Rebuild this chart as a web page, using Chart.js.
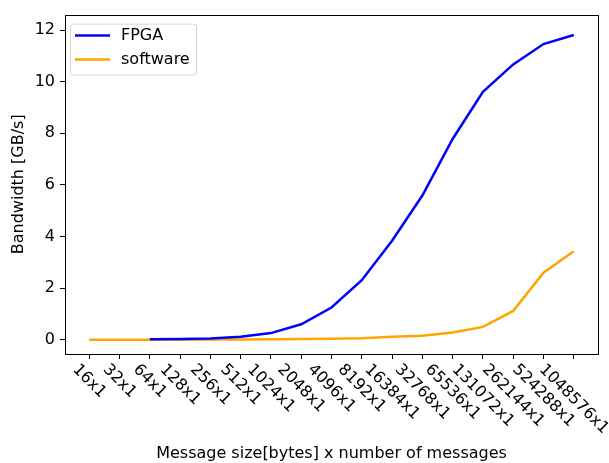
<!DOCTYPE html>
<html>
<head>
<meta charset="utf-8">
<script src="https://cdn.jsdelivr.net/npm/chart.js@4/dist/chart.umd.min.js"></script>
<style>
  html, body { margin: 0; padding: 0; background: #fff; }
  #wrap { width: 609px; height: 463px; }
</style>
</head>
<body>
<div id="wrap"><canvas id="c" width="609" height="463"></canvas></div>
<script>
// Message sizes (bytes x number of messages)
const categories = ['16x1', '32x1', '64x1', '128x1', '256x1', '512x1', '1024x1', '2048x1',
  '4096x1', '8192x1', '16384x1', '32768x1', '65536x1', '131072x1', '262144x1', '524288x1', '1048576x1'];

// Bandwidth in GB/s
const fpgaValues = [null, null, 0.02, 0.03, 0.05, 0.12, 0.26, 0.60, 1.25, 2.31, 3.84, 5.59,
  7.78, 9.61, 10.67, 11.46, 11.81];
const softwareValues = [0.0, 0.0, 0.0, 0.005, 0.01, 0.015, 0.02, 0.03, 0.04, 0.06, 0.12, 0.16,
  0.28, 0.50, 1.12, 2.60, 3.43];

const yTickValues = [0, 2, 4, 6, 8, 10, 12];

const FONT = 'DejaVu Sans';
const FS = 16;

const toPoints = vals => vals.map((v, i) => ({ x: i, y: v }));

// Frame around the plot area
const framePlugin = {
  id: 'frame',
  afterDatasetsDraw(chart) {
    const { ctx, chartArea: a } = chart;
    ctx.save();
    ctx.strokeStyle = '#000';
    ctx.lineWidth = 1;
    ctx.strokeRect(Math.round(a.left) + 0.5, Math.round(a.top) + 0.5,
      Math.round(a.right - a.left), Math.round(a.bottom - a.top));
    ctx.restore();
  }
};

// Slanted category labels under the x axis
const slantLabelsPlugin = {
  id: 'slantLabels',
  afterDraw(chart) {
    const { ctx } = chart;
    const xs = chart.scales.x;
    const y0 = chart.chartArea.bottom + 8;
    ctx.save();
    ctx.font = FS + 'px "' + FONT + '"';
    ctx.fillStyle = '#000';
    ctx.textAlign = 'center';
    ctx.textBaseline = 'middle';
    categories.forEach((lab, i) => {
      const px = xs.getPixelForValue(i);
      const w = ctx.measureText(lab).width;
      const h = FS * 0.9;
      const half = (w + h) / (2 * Math.SQRT2);
      ctx.save();
      ctx.translate(px, y0 + half);
      ctx.rotate(Math.PI / 4);
      ctx.fillText(lab, 0, 0);
      ctx.restore();
    });
    ctx.restore();
  }
};

// Legend box in the upper-left corner of the plot area
const innerLegendPlugin = {
  id: 'innerLegend',
  afterDraw(chart) {
    const { ctx, chartArea: a } = chart;
    const x = a.left + 5, y = a.top + 9, w = 126, h = 51, r = 3;
    ctx.save();
    ctx.fillStyle = 'rgba(255,255,255,0.8)';
    ctx.strokeStyle = 'rgba(204,204,204,0.8)';
    ctx.lineWidth = 1;
    ctx.beginPath();
    ctx.roundRect(x + 0.5, y + 0.5, w, h, r);
    ctx.fill();
    ctx.stroke();
    ctx.font = FS + 'px "' + FONT + '"';
    ctx.textAlign = 'left';
    ctx.textBaseline = 'middle';
    chart.data.datasets.forEach((ds, i) => {
      const ly = y + 12 + i * 24;
      ctx.strokeStyle = ds.borderColor;
      ctx.lineWidth = 2.5;
      ctx.beginPath();
      ctx.moveTo(x + 5, ly);
      ctx.lineTo(x + 40, ly);
      ctx.stroke();
      ctx.fillStyle = '#000';
      ctx.fillText(ds.label, x + 51, ly);
    });
    ctx.restore();
  }
};

new Chart(document.getElementById('c'), {
  type: 'line',
  data: {
    datasets: [
      { label: 'FPGA', data: toPoints(fpgaValues), borderColor: '#0000ff', borderWidth: 2.5,
        pointRadius: 0, fill: false, tension: 0 },
      { label: 'software', data: toPoints(softwareValues), borderColor: '#ffa500', borderWidth: 2.5,
        pointRadius: 0, fill: false, tension: 0 }
    ]
  },
  options: {
    responsive: false,
    animation: false,
    events: [],
    layout: { padding: { left: 0, right: 11, top: 3, bottom: 0 } },
    plugins: {
      legend: { display: false },
      tooltip: { enabled: false }
    },
    scales: {
      x: {
        type: 'linear',
        min: -0.8,
        max: 16.8,
        afterBuildTicks(scale) { scale.ticks = categories.map((_, i) => ({ value: i })); },
        afterFit(scale) { scale.height = 109; },
        grid: { drawOnChartArea: false, drawTicks: true, tickLength: 5, color: '#000' },
        border: { display: false },
        ticks: { display: false },
        title: {
          display: true,
          text: 'Message size[bytes] x number of messages',
          color: '#000',
          font: { family: FONT, size: FS },
          padding: { top: 0, bottom: 0 }
        }
      },
      y: {
        type: 'linear',
        min: -0.55,
        max: 12.6,
        afterBuildTicks(scale) { scale.ticks = yTickValues.map(v => ({ value: v })); },
        afterFit(scale) { scale.width = 65; },
        grid: { drawOnChartArea: false, drawTicks: true, tickLength: 5, color: '#000' },
        border: { display: false },
        ticks: {
          color: '#000',
          padding: 5,
          font: { family: FONT, size: FS },
          callback: v => String(v)
        },
        title: {
          display: true,
          text: 'Bandwidth [GB/s]',
          color: '#000',
          font: { family: FONT, size: FS },
          padding: { top: 9, bottom: 0 }
        }
      }
    }
  },
  plugins: [framePlugin, slantLabelsPlugin, innerLegendPlugin]
});
</script>
</body>
</html>
